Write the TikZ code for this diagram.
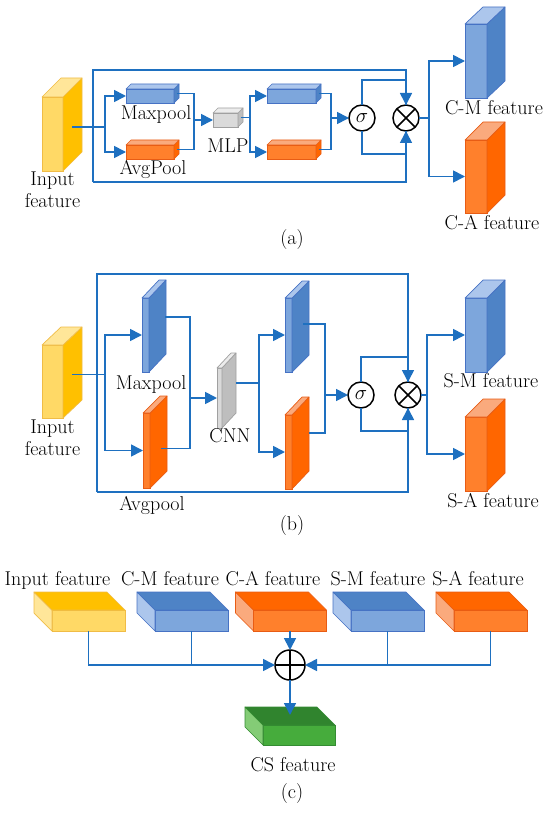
\documentclass[tikz,border=0pt]{standalone}
\usepackage{tikz}
\usetikzlibrary{arrows.meta,positioning,calc}
\definecolor{linkblue}{RGB}{30,112,192}
\definecolor{yel}{RGB}{255,217,102}
\definecolor{yeldark}{RGB}{255,192,0}
\definecolor{yellight}{RGB}{255,230,153}
\definecolor{yeledge}{RGB}{240,188,70}
\definecolor{blu}{RGB}{125,166,220}
\definecolor{bludark}{RGB}{78,131,198}
\definecolor{blulight}{RGB}{172,198,236}
\definecolor{bluedge}{RGB}{70,114,196}
\definecolor{org}{RGB}{255,128,44}
\definecolor{orgdark}{RGB}{255,102,0}
\definecolor{orglight}{RGB}{250,170,125}
\definecolor{orgedge}{RGB}{232,92,20}
\definecolor{gry}{RGB}{218,218,218}
\definecolor{grydark}{RGB}{190,190,190}
\definecolor{grylight}{RGB}{236,236,236}
\definecolor{gryedge}{RGB}{160,160,160}
\definecolor{grn}{RGB}{70,172,60}
\definecolor{grndark}{RGB}{48,132,46}
\definecolor{grnlight}{RGB}{132,204,118}
\definecolor{grnedge}{RGB}{52,140,50}
\tikzset{
  face/.style={draw=#1edge,line width=0.7pt,fill=#1,inner sep=0pt,outer sep=0pt},
  link/.style={draw=linkblue,line width=1.7pt},
  arr/.style={link,-{Triangle[length=12pt,width=12pt]}},
  op/.style={circle,draw=black,line width=1.5pt,minimum size=26pt,inner sep=0pt,outer sep=0pt},
  opline/.style={line width=1.5pt},
  lbl/.style={inner sep=0pt,font=\fontsize{20}{22}\selectfont}
}
% front face as a node, side face on the right, top face above
\newcommand{\cubeR}[7]{%
  \node[face=#7,minimum width=#3pt,minimum height=#4pt] (#1) at (#2) {};
  \filldraw[fill=#7dark,draw=#7edge,line width=0.7pt,line join=round] (#1.north east) -- ++(#5,#6) -- ($(#1.south east)+(#5,#6)$) -- (#1.south east) -- cycle;
  \filldraw[fill=#7light,draw=#7edge,line width=0.7pt,line join=round] (#1.north west) -- ++(#5,#6) -- ($(#1.north east)+(#5,#6)$) -- (#1.north east) -- cycle;
}
% front face as a node, side face on the left, top face above
\newcommand{\cubeL}[7]{%
  \node[face=#7,minimum width=#3pt,minimum height=#4pt] (#1) at (#2) {};
  \filldraw[fill=#7light,draw=#7edge,line width=0.7pt,line join=round] (#1.north west) -- ++(#5,#6) -- ($(#1.south west)+(#5,#6)$) -- (#1.south west) -- cycle;
  \filldraw[fill=#7dark,draw=#7edge,line width=0.7pt,line join=round] (#1.north west) -- ++(#5,#6) -- ($(#1.north east)+(#5,#6)$) -- (#1.north east) -- cycle;
}

\begin{document}
\begin{tikzpicture}[x=1pt,y=-1pt,font=\fontsize{20}{22}\selectfont]
  \useasboundingbox (0,0) rectangle (550,813);

  % (a) channel attention
  \cubeR{inA}{52.5,134}{21}{74}{19}{-19}{yel}
  \cubeR{mpA}{150,96}{48}{14}{5}{-5}{blu}
  \cubeR{apA}{150,152}{48}{14}{5}{-5}{org}
  \cubeR{mlp}{225.5,120}{25}{14}{5}{-5}{gry}
  \cubeR{mpA2}{291.5,96}{49}{14}{5}{-5}{blu}
  \cubeR{apA2}{291.5,152}{49}{14}{5}{-5}{org}
  \cubeR{cmA}{476,61}{22}{74}{18}{-17}{blu}
  \cubeR{caA}{476,176.5}{22}{73}{18}{-18}{org}
  \node[op] (sigA) at (362,118) {$\sigma$};
  \node[op] (mulA) at (406,118) {};
  \draw[opline] (mulA.north west) -- (mulA.south east) (mulA.north east) -- (mulA.south west);

  \node[lbl,align=center,below=1pt of inA] (tInA) {Input\\feature};
  \node[lbl,anchor=base] (tMpA) at (156,120) {Maxpool};
  \node[lbl,anchor=base] (tApA) at (153,175) {AvgPool};
  \node[lbl,anchor=base] (tMlp) at (228,153) {MLP};
  \node[lbl,anchor=base] (tCmA) at (494,115) {C-M feature};
  \node[lbl,anchor=base] (tCaA) at (492,229) {C-A feature};
  \node[lbl,anchor=base] (capA) at (292,244) {(a)};

  \coordinate (boxAnw) at (93,70);
  \coordinate (boxAsw) at (93,182);
  \coordinate (brA) at (105,127);
  \coordinate (mgA) at (194,120);
  \coordinate (brA2) at (250,117.5);
  \coordinate (mgA2) at (331,118);
  \coordinate (brA3) at (429,118);
  \draw[link] (sigA.north) -- ++(0,-25) -| (mulA.north);
  \draw[link] (sigA.south) -- ++(0,23) -| (mulA.south);
  \draw[arr] (boxAsw) -- (boxAnw) -| (mulA.north);
  \draw[arr] (boxAsw) -| (mulA.south);
  \draw[link] ($(inA.east)+(9,-7)$) -- (brA);
  \draw[arr] (brA) |- (mpA.west);
  \draw[arr] (brA) |- (apA.west);
  \draw[link] ($(mpA.east)+(2.5,-2.5)$) -| (mgA) |- ($(apA.east)+(2.5,-2.5)$);
  \draw[arr] (mgA) -- (mlp.west);
  \draw[link] ($(mlp.east)+(2.5,-2.5)$) -- (brA2);
  \draw[arr] (brA2) |- (mpA2.west);
  \draw[arr] (brA2) |- (apA2.west);
  \draw[link] ($(mpA2.east)+(2.5,-2.5)$) -| (mgA2) |- ($(apA2.east)+(2.5,-2.5)$);
  \draw[arr] (mgA2) -- (sigA.west);
  \draw[link] (mulA.east) -- (brA3);
  \draw[arr] (brA3) |- (cmA.west);
  \draw[arr] (brA3) |- (caA.west);

  % (b) spatial attention
  \cubeR{inB}{52.5,381.5}{21}{73}{19}{-18}{yel}
  \cubeR{mpB}{145.5,335}{7}{74}{17}{-18}{blu}
  \cubeR{apB}{146.5,450.5}{7}{75}{17}{-17}{org}
  \cubeR{cnn}{219.5,398}{5}{60}{14}{-15}{gry}
  \cubeR{mpB2}{288.5,335}{7}{74}{17}{-17}{blu}
  \cubeR{apB2}{288.5,452}{7}{74}{17}{-18}{org}
  \cubeR{smB}{476,335}{22}{74}{18}{-18}{blu}
  \cubeR{saB}{476,454}{22}{74}{18}{-18}{org}
  \node[op] (sigB) at (361,395) {$\sigma$};
  \node[op] (mulB) at (408,395) {};
  \draw[opline] (mulB.north west) -- (mulB.south east) (mulB.north east) -- (mulB.south west);

  \node[lbl,align=center,below=2pt of inB] (tInB) {Input\\feature};
  \node[lbl,anchor=base] (tMpB) at (151,389) {Maxpool};
  \node[lbl,anchor=base] (tApB) at (152,510) {Avgpool};
  \node[lbl,anchor=base] (tCnn) at (230,442) {CNN};
  \node[lbl,anchor=base] (tSmB) at (491,387) {S-M feature};
  \node[lbl,anchor=base] (tSaB) at (493,507) {S-A feature};
  \node[lbl,anchor=base] (capB) at (292,530) {(b)};

  \coordinate (boxBnw) at (97,274);
  \coordinate (boxBsw) at (97,492);
  \coordinate (brB) at (105,374.5);
  \coordinate (mgB) at (190,398);
  \coordinate (brB2) at (259,383);
  \coordinate (mgB2) at (325,395);
  \coordinate (brB3) at (427,395);
  \draw[link] (sigB.north) -- ++(0,-25) -| (mulB.north);
  \draw[link] (sigB.south) -- ++(0,23) -| (mulB.south);
  \draw[arr] (boxBsw) -- (boxBnw) -| (mulB.north);
  \draw[arr] (boxBsw) -| (mulB.south);
  \draw[link] ($(inB.east)+(9,-7)$) -- (brB);
  \draw[arr] (brB) |- (mpB.west);
  \draw[arr] (brB) |- (apB.west);
  \draw[link] ($(mpB.east)+(16,-18)$) -| (mgB) |- ($(apB.east)+(11,-2)$);
  \draw[arr] (mgB) -- (cnn.west);
  \draw[link] ($(cnn.east)+(14,-15)$) -- (brB2);
  \draw[arr] (brB2) |- (mpB2.west);
  \draw[arr] (brB2) |- (apB2.west);
  \draw[link] ($(mpB2.east)+(11,-11)$) -| (mgB2) |- ($(apB2.east)+(17,-19)$);
  \draw[arr] (mgB2) -- (sigB.west);
  \draw[link] (mulB.east) -- (brB3);
  \draw[arr] (brB3) |- (smB.west);
  \draw[arr] (brB3) |- (saB.west);

  % (c) fusion
  \cubeL{inC}{88.5,620.5}{73}{21}{-18}{-18}{yel}
  \cubeL{cmC}{191.5,620.5}{73}{21}{-18}{-18}{blu}
  \cubeL{caC}{290,620.5}{73}{21}{-18}{-18}{org}
  \cubeL{smC}{387.5,620.5}{73}{21}{-18}{-18}{blu}
  \cubeL{saC}{490.5,620.5}{73}{21}{-18}{-18}{org}
  \cubeL{csC}{299,735}{72}{20}{-18}{-18}{grn}
  \node[op,minimum size=30pt] (addC) at (290,665) {};
  \draw[opline] (addC.north) -- (addC.south) (addC.west) -- (addC.east);

  \node[lbl,anchor=base] (tInC) at (57.5,585) {Input feature};
  \node[lbl,anchor=base] (tCmC) at (170,585) {C-M feature};
  \node[lbl,anchor=base] (tCaC) at (273,585) {C-A feature};
  \node[lbl,anchor=base] (tSmC) at (378,585) {S-M feature};
  \node[lbl,anchor=base] (tSaC) at (478,585) {S-A feature};
  \node[lbl,anchor=base] (tCsC) at (293,771) {CS feature};
  \node[lbl,anchor=base] (capC) at (292,798) {(c)};

  \coordinate (csTop) at ($(csC.north)+(-9,-10)$);
  \draw[link] (cmC.south) -- (cmC.south |- addC.west);
  \draw[link] (smC.south) -- (smC.south |- addC.east);
  \draw[arr] (inC.south) |- (addC.west);
  \draw[arr] (saC.south) |- (addC.east);
  \draw[arr] (caC.south) -- (addC.north);
  \draw[arr] (addC.south) -- (csTop);
\end{tikzpicture}
\end{document}
